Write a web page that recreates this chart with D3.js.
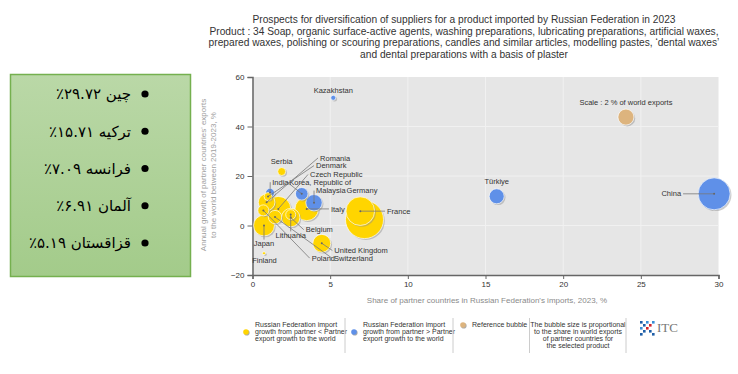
<!DOCTYPE html>
<html><head><meta charset="utf-8">
<script src="https://cdn.jsdelivr.net/npm/d3@7"></script>
<style>
html,body{margin:0;padding:0;background:#fff;}
svg{display:block;}
</style></head>
<body>
<svg id="chart" width="738" height="374"></svg>
<script>
// ---------- DATA ----------
const countries = ["China","Türkiye","Kazakhstan","France","Germany","Italy","Malaysia","Korea, Republic of","India","Serbia","Czech Republic","Romania","Denmark","Poland","Japan","Finland","Switzerland","Belgium","Lithuania","United Kingdom"];
const importShare = [29.72,15.72,5.2,6.94,7.21,3.49,3.96,3.17,1.13,1.88,1.66,0.91,1.0,0.70,0.74,0.74,1.45,2.46,2.46,4.46];
const exportGrowth = [12.8,11.8,51.6,5.8,2.4,6.7,9.2,12.8,13.2,21.8,6.7,9.4,11.7,6.1,0.0,-11.2,3.4,3.2,4.4,-7.2];
const worldExportShare = [8.0,1.76,0.2,6.4,11.3,4.3,2.1,1.24,0.63,0.5,4.9,2.15,0.5,0.95,3.4,0.07,1.4,2.65,0.78,2.5];
const importVsExport = ["higher","higher","higher","lower","lower","lower","higher","higher","higher","lower","lower","lower","lower","lower","lower","lower","lower","lower","lower","lower"];
const referenceBubble = {share:24.04, growth:43.8, size:2, label:"Scale : 2 % of world exports"};
const xTicks = [0,5,10,15,20,25,30];
const yTicks = [-20,0,20,40,60];
const titleLines = [
 "Prospects for diversification of suppliers for a product imported by Russian Federation in 2023",
 "Product : 34 Soap, organic surface-active agents, washing preparations, lubricating preparations, artificial waxes,",
 "prepared waxes, polishing or scouring preparations, candles and similar articles, modelling pastes, \u2018dental waxes\u2019",
 "and dental preparations with a basis of plaster"];
const xTitle = "Share of partner countries in Russian Federation's imports, 2023, %";
const yTitle = ["Annual growth of partner countries' exports","to the world between 2019-2023, %"];
const sideNotes = ["چین ۲۹.۷۲٪","ترکیه ۱۵.۷۱٪","فرانسه ۷.۰۹٪","آلمان ۶.۹۱٪","قزاقستان ۵.۱۹٪"];
const legendTexts = [
 ["Russian Federation import","growth from partner < Partner","export growth to the world"],
 ["Russian Federation import","growth from partner > Partner","export growth to the world"],
 ["Reference bubble"],
 ["The bubble size is proportional","to the share in world exports","of partner countries for","the selected product"]];

// label layout (in data units) : [x, y, anchor, leader]
const labelLayout = {
 "China":[27.59,12.8,"end",true],
 "Türkiye":[15.72,17.8,"middle",false],
 "Kazakhstan":[5.2,54.7,"middle",false],
 "France":[8.66,5.8,"start",true],
 "Germany":[7.05,14.1,"middle",false],
 "Italy":[5.05,6.7,"start",true],
 "Malaysia":[4.09,14.1,"start",true],
 "Korea, Republic of":[2.37,17.5,"start",true],
 "India":[1.27,17.5,"start",true],
 "Serbia":[1.88,26,"middle",false],
 "Czech Republic":[3.70,20.6,"start",true],
 "Romania":[4.35,27.3,"start",true],
 "Denmark":[4.09,24.2,"start",true],
 "Poland":[3.81,-13.2,"start",true],
 "Japan":[0.74,-7.3,"middle",true],
 "Finland":[0.77,-13.9,"middle",false],
 "Switzerland":[5.25,-13.2,"start",true],
 "Belgium":[3.43,-1.7,"start",true],
 "Lithuania":[2.46,-4.0,"middle",true],
 "United Kingdom":[5.27,-10.1,"start",true]
};

// ---------- STYLE ----------
const colors = {lower:"#FFD500", higher:"#5F90E8", ref:"#DDB47E"};
const font = "'Liberation Sans', Arial, sans-serif";
const svg = d3.select("#chart");

// ---------- LEFT PANEL ----------
const defs = svg.append("defs");
const grad = defs.append("linearGradient").attr("id","pg").attr("x1",0).attr("y1",0).attr("x2",0).attr("y2",1);
grad.append("stop").attr("offset","0%").attr("stop-color","#bad8a7");
grad.append("stop").attr("offset","100%").attr("stop-color","#a3cb8a");
svg.append("rect").attr("x",10.5).attr("y",74.5).attr("width",180).attr("height",202)
  .attr("fill","url(#pg)").attr("stroke","#75b04f").attr("stroke-width",1.5);
const noteY = d3.scalePoint().domain(d3.range(sideNotes.length)).range([94,243]);
sideNotes.forEach((t,i)=>{
  svg.append("circle").attr("cx",145).attr("cy",noteY(i)).attr("r",3.6).attr("fill","#000");
  svg.append("text").attr("x",131).attr("y",noteY(i)).attr("dy","0.35em")
    .attr("text-anchor","end").attr("font-family","'DejaVu Sans', sans-serif").attr("font-size",15)
    .attr("fill","#000").text(t + "\u200F");
});

// ---------- TITLE ----------
titleLines.forEach((t,i)=>{
  svg.append("text").attr("x",464).attr("y",23+i*11.6).attr("text-anchor","middle")
    .attr("font-family",font).attr("font-size",10.2).attr("fill","#333").text(t);
});

// ---------- SCALES ----------
const x = d3.scaleLinear().domain([0,30]).range([252.5,718.5]);
const y = d3.scaleLinear().domain([-20,60]).range([275,77]);
const r = d3.scaleSqrt().domain([0,2]).range([0,8]);

// plot background
svg.append("rect").attr("x",x(0)).attr("y",y(60)).attr("width",x(30)-x(0)).attr("height",y(-20)-y(60)).attr("fill","#e6e6e6");
// grid
const g = svg.append("g");
g.selectAll(".vg").data(xTicks.filter(d=>d>0&&d<30)).join("line")
  .attr("x1",d=>x(d)).attr("x2",d=>x(d)).attr("y1",y(60)).attr("y2",y(-20)).attr("stroke","#f1f1f1").attr("stroke-width",1);
g.selectAll(".hg").data(yTicks.filter(d=>d>-20&&d<60)).join("line")
  .attr("y1",d=>y(d)).attr("y2",d=>y(d)).attr("x1",x(0)).attr("x2",x(30)).attr("stroke","#f1f1f1").attr("stroke-width",1);

// axes
const xAxis = svg.append("g").attr("transform",`translate(0,${y(-20)})`)
  .call(d3.axisBottom(x).tickValues(xTicks).tickSize(4).tickPadding(2));
const yAxis = svg.append("g").attr("transform",`translate(${x(0)},0)`)
  .call(d3.axisLeft(y).tickValues(yTicks).tickSize(5).tickPadding(3));
[xAxis,yAxis].forEach(a=>{
  a.select(".domain").attr("stroke","#666").attr("stroke-width",1.5);
  a.selectAll(".tick line").attr("stroke","#666");
  a.selectAll(".tick text").attr("font-family",font).attr("font-size",8).attr("fill","#333");
});

// axis titles
svg.append("text").attr("x",487).attr("y",303).attr("text-anchor","middle")
  .attr("font-family",font).attr("font-size",8).attr("fill","#8a8a8a").text(xTitle);
yTitle.forEach((t,i)=>{
  svg.append("text").attr("transform",`translate(${206+i*10},175) rotate(-90)`).attr("text-anchor","middle")
    .attr("font-family",font).attr("font-size",8).attr("fill","#a0a0a0").text(t);
});

// ---------- BUBBLES ----------
const data = countries.map((c,i)=>({name:c, xv:importShare[i], yv:exportGrowth[i], s:worldExportShare[i], grp:importVsExport[i]}));
const all = data.concat([{name:"__ref", xv:referenceBubble.share, yv:referenceBubble.growth, s:referenceBubble.size, grp:"ref"}]);
all.sort((a,b)=>b.s-a.s);
const bub = svg.append("g");
all.forEach(d=>{
  bub.append("circle").attr("cx",x(d.xv)+1.3).attr("cy",y(d.yv)+1.3).attr("r",r(d.s)).attr("fill","#8c8c8c").attr("opacity",0.45);
  bub.append("circle").attr("cx",x(d.xv)).attr("cy",y(d.yv)).attr("r",r(d.s)).attr("fill",colors[d.grp])
    .attr("stroke","rgba(255,255,255,0.75)").attr("stroke-width",0.9);
});

// ---------- LABELS ----------
const lab = svg.append("g");
data.forEach(d=>{
  const L = labelLayout[d.name]; if(!L) return;
  const lx = x(L[0]), ly = y(L[1]);
  if(L[3]){
    let ex = lx, ey = ly;
    if(L[2]==="start") ex = lx-2;
    else if(L[2]==="end") ex = lx+2;
    else ey = ly-4;
    lab.append("line").attr("x1",x(d.xv)).attr("y1",y(d.yv)).attr("x2",ex).attr("y2",ey)
      .attr("stroke","#777").attr("stroke-width",0.8);
    lab.append("circle").attr("cx",x(d.xv)).attr("cy",y(d.yv)).attr("r",1).attr("fill","#666");
  }
  lab.append("text").attr("x",lx).attr("y",ly).attr("dy","0.35em").attr("text-anchor",L[2])
    .attr("font-family",font).attr("font-size",7.5).attr("fill","#333").text(d.name);
});
lab.append("text").attr("x",x(referenceBubble.share)).attr("y",y(49.8)).attr("dy","0.35em").attr("text-anchor","middle")
  .attr("font-family",font).attr("font-size",7.5).attr("fill","#333").text(referenceBubble.label);

// ---------- LEGEND ----------
const leg = svg.append("g").attr("font-family",font).attr("font-size",7).attr("fill","#333");
const legDots = [[246,332,colors.lower],[354,332,colors.higher],[463,325,colors.ref]];
legDots.forEach(p=>{
  leg.append("circle").attr("cx",p[0]+0.8).attr("cy",p[1]+0.8).attr("r",2.8).attr("fill","#aaa");
  leg.append("circle").attr("cx",p[0]).attr("cy",p[1]).attr("r",2.8).attr("fill",p[2]);
});
const legX = [255,363,472];
legendTexts.slice(0,3).forEach((lines,k)=>{
  lines.forEach((t,i)=>leg.append("text").attr("x",legX[k]).attr("y",327+i*7).text(t));
});
legendTexts[3].forEach((t,i)=>leg.append("text").attr("x",578).attr("y",327+i*7).attr("text-anchor","middle").text(t));
[345,453,529.5,626].forEach(sx=>{
  leg.append("line").attr("x1",sx).attr("x2",sx).attr("y1",318).attr("y2",353).attr("stroke","#ccc").attr("stroke-width",1);
});
// ITC logo
const logo = svg.append("g").attr("transform","translate(640,321)");
const sq = [[0,0,"#1f5fa8"],[3,3,"#1f5fa8"],[6,6,"#d2232a"],[9,9,"#1f5fa8"],[12,12,"#1f5fa8"],
            [12,0,"#3a8fd6"],[9,3,"#d2232a"],[3,9,"#1f5fa8"],[0,12,"#1f5fa8"],[6,0,"#3a8fd6"],[0,6,"#3a8fd6"]];
sq.forEach(s=>logo.append("rect").attr("x",s[0]).attr("y",s[1]).attr("width",2.6).attr("height",2.6).attr("fill",s[2]));
svg.append("text").attr("x",657).attr("y",332).attr("font-family","'Liberation Serif', serif").attr("font-size",13).attr("fill","#777").text("ITC");
</script>
</body></html>
